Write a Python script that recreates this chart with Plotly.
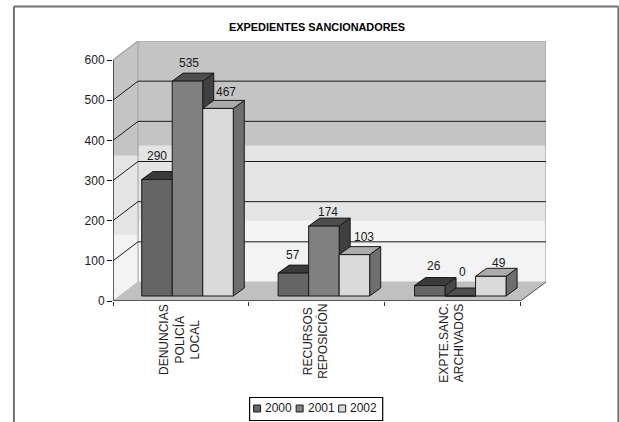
import plotly.graph_objects as go

categories = ["DENUNCIAS<br>POLICÍA<br>LOCAL", "RECURSOS<br>REPOSICIÓN", "EXPTE.SANC.<br>ARCHIVADOS"]
series_names = ["2000", "2001", "2002"]
values_2000 = [290, 57, 26]
values_2001 = [535, 174, 0]
values_2002 = [467, 103, 49]
y_ticks = [0, 100, 200, 300, 400, 500, 600]
title_text = "EXPEDIENTES SANCIONADORES"

W, H = 619, 422
L, R_EDGE, T, B = 113, 545.7, 41, 301
PX_X = 135.7
PX_Y = (B - T - 19) / 600
FONT = "Liberation Sans, Arial, sans-serif"
INK = "#1a1a1a"

def ux(px): return px / PX_X
def uy(px): return px / PX_Y
def px_paper(x): return (x - L) / (R_EDGE - L)
def py_paper(y): return (B - y) / (B - T)

X_MAX = ux(R_EDGE - L)
Y_MAX = uy(B - T)
DX, DY = ux(25), uy(19)

fig = go.Figure()

def poly(xs, ys, fill, line=None, width=1):
    fig.add_trace(go.Scatter(
        x=list(xs) + [xs[0]], y=list(ys) + [ys[0]], mode="lines", fill="toself",
        fillcolor=fill, line=dict(color=line or fill, width=width),
        hoverinfo="skip", showlegend=False, cliponaxis=False))

def seg(xs, ys, color=INK, width=1):
    fig.add_trace(go.Scatter(x=xs, y=ys, mode="lines", line=dict(color=color, width=width),
                             hoverinfo="skip", showlegend=False, cliponaxis=False))

band_hi_back, band_lo_back = uy(B - 146), uy(B - 221)
band_hi_side, band_lo_side = uy(B - 156), uy(B - 235)
C_TOP, C_MID, C_LOW = "#c4c4c4", "#e4e4e4", "#f3f3f3"

# back wall
poly([DX, X_MAX, X_MAX, DX], [band_hi_back, band_hi_back, Y_MAX, Y_MAX], C_TOP)
poly([DX, X_MAX, X_MAX, DX], [band_lo_back, band_lo_back, band_hi_back, band_hi_back], C_MID)
poly([DX, X_MAX, X_MAX, DX], [DY, DY, band_lo_back, band_lo_back], C_LOW)
# side wall
poly([0, DX, DX, 0], [band_hi_side, band_hi_side, Y_MAX, 600], C_TOP)
poly([0, DX, DX, 0], [band_lo_side, band_lo_side, band_hi_side, band_hi_side], C_MID)
poly([0, DX, DX, 0], [0, DY, band_lo_side, band_lo_side], C_LOW)
# floor
poly([0, 3, X_MAX, DX], [0, 0, DY, DY], "#c0c0c0")
# wall edges
seg([0, DX, X_MAX, X_MAX], [600, Y_MAX, Y_MAX, DY], "#a3a3a3", 1.2)
seg([DX, DX], [DY, Y_MAX], "#a3a3a3", 1)
# grid lines
for v in y_ticks[1:-1]:
    seg([0, DX, X_MAX], [v, v + DY, v + DY], INK, 1)
seg([3, X_MAX], [0, DY], "#555555", 1)

BAR_W = ux(30.5)
BAR_START = ux(28.7)
CLUSTER_STEP = ux(136.3)
BASE = uy(5)
D_X, D_Y = ux(11), uy(8)
series = [values_2000, values_2001, values_2002]
colors = [dict(front="#656565", top="#3a3a3a", side="#474747"),
          dict(front="#808080", top="#4e4e4e", side="#404040"),
          dict(front="#dadada", top="#ababab", side="#6e6e6e")]

for c in range(len(categories)):
    for s, vals in enumerate(series):
        x0 = c * CLUSTER_STEP + BAR_START + s * BAR_W
        x1 = x0 + BAR_W
        y0, y1 = BASE, BASE + vals[c]
        st = colors[s]
        poly([x1, x1 + D_X, x1 + D_X, x1], [y0, y0 + D_Y, y1 + D_Y, y1], st["side"], INK)
        poly([x0, x1, x1 + D_X, x0 + D_X], [y1, y1, y1 + D_Y, y1 + D_Y], st["top"], INK)
        poly([x0, x1, x1, x0], [y0, y0, y1, y1], st["front"], INK)

# axis lines
seg([0, 0], [0, 600], "#000000", 1.2)
seg([0, 3], [0, 0], "#333333", 1.5)

ann = []
label_dx = [[0, 1, 8], [0, 4, 10], [4, 2, 8]]
label_dy = [[-24, -18, -16], [-18, -14, -18], [-20, -24, -13]]
for c in range(len(categories)):
    for s, vals in enumerate(series):
        ann.append(dict(x=c * CLUSTER_STEP + BAR_START + (s + 0.5) * BAR_W, y=BASE + vals[c], xref="x", yref="y",
                        text=str(vals[c]), showarrow=False, xanchor="center", yanchor="middle",
                        xshift=label_dx[c][s], yshift=-label_dy[c][s],
                        font=dict(family=FONT, size=12, color=INK)))
for c, cat in enumerate(categories):
    ann.append(dict(x=c + 0.49, y=0, xref="x", yref="paper", text=cat, showarrow=False,
                    textangle=-90, align="center", xanchor="center", yanchor="top", yshift=-1,
                    font=dict(family=FONT, size=12, color=INK)))
ann.append(dict(x=px_paper(316.5), y=py_paper(27), xref="paper", yref="paper", text="<b>%s</b>" % title_text,
                showarrow=False, xanchor="center", yanchor="middle",
                font=dict(family=FONT, size=10.9, color="#000000")))

def rect(x0, y0, x1, y1, fill, line, width=1):
    return dict(type="rect", xref="paper", yref="paper", x0=px_paper(x0), x1=px_paper(x1),
                y0=py_paper(y0), y1=py_paper(y1), fillcolor=fill, line=dict(color=line, width=width))

def line(x0, y0, x1, y1, color, width):
    return dict(type="line", xref="paper", yref="paper", x0=px_paper(x0), x1=px_paper(x1),
                y0=py_paper(y0), y1=py_paper(y1), line=dict(color=color, width=width))

shapes = [line(14, 422, 14, 6.5, "#707070", 2), line(14, 6.5, 618, 6.5, "#707070", 2),
          line(618, 6.5, 618, 422, "#707070", 2),
          rect(249.5, 397.5, 382.5, 420.5, "#ffffff", "#000000", 1.2)]
for i, name in enumerate(series_names):
    sx = 253.5 + i * 42.5
    shapes.append(rect(sx, 405, sx + 7, 412, colors[i]["front"], INK, 1))
    ann.append(dict(x=px_paper(sx + 9.5), y=py_paper(408.5), xref="paper", yref="paper", text=name,
                    showarrow=False, xanchor="left", yanchor="middle",
                    font=dict(family=FONT, size=12, color=INK)))

fig.update_layout(
    width=W, height=H, autosize=False, showlegend=False,
    margin=dict(l=L, r=W - R_EDGE, t=T, b=H - B, autoexpand=False, pad=0),
    paper_bgcolor="#ffffff", plot_bgcolor="#ffffff",
    font=dict(family=FONT, size=12, color=INK),
    xaxis=dict(range=[0, X_MAX], tickmode="array", tickvals=[0, 1, 2, 3], ticktext=["", "", "", ""],
               ticks="outside", ticklen=4, tickcolor="#333333", showgrid=False, zeroline=False, showline=False),
    yaxis=dict(range=[0, Y_MAX], tickmode="array", tickvals=y_ticks, ticktext=[str(v) for v in y_ticks],
               ticks="outside", ticklen=5, tickcolor="#000000", showgrid=False, zeroline=False, showline=False,
               tickfont=dict(family=FONT, size=12, color=INK)),
    annotations=ann, shapes=shapes,
)
fig.write_html("out.html", config=dict(displayModeBar=False),
               post_script="document.documentElement.style.overflow='hidden';document.body.style.margin='0';")
